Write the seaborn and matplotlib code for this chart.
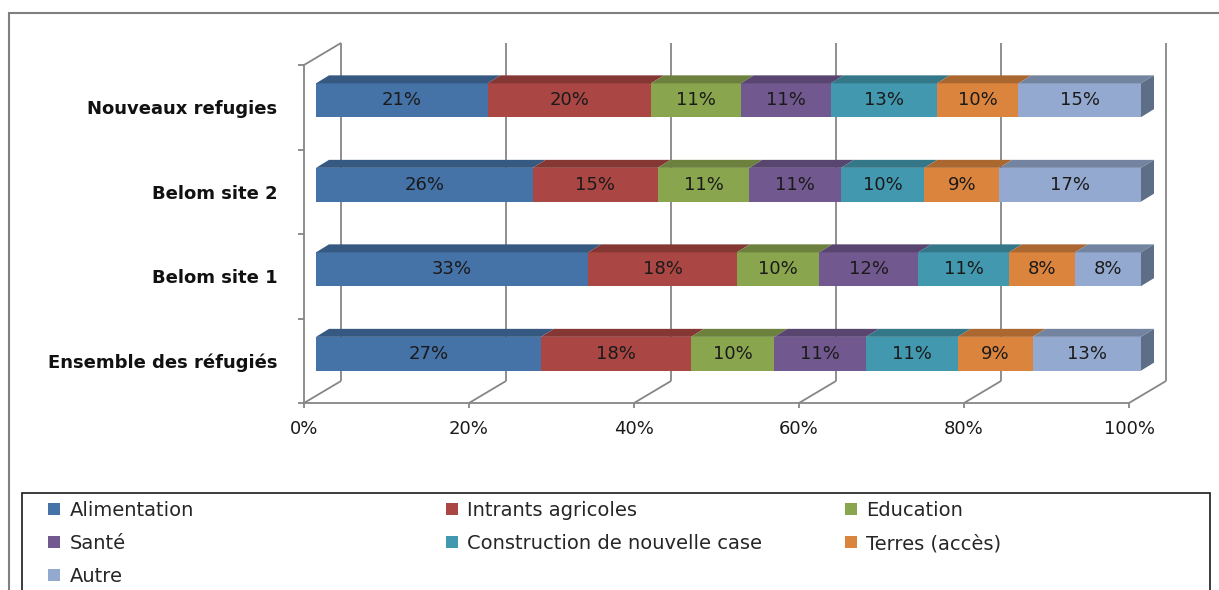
import matplotlib
matplotlib.use("Agg")
import matplotlib.pyplot as plt
import matplotlib.colors as mcolors
from matplotlib.patches import Polygon, Rectangle, Patch
import pandas as pd
import seaborn as sns

# data (percent labels shown on each segment)
categories = ["Nouveaux refugies", "Belom site 2", "Belom site 1", "Ensemble des réfugiés"]
series = ["Alimentation", "Intrants agricoles", "Education", "Santé",
          "Construction de nouvelle case", "Terres (accès)", "Autre"]
alimentation = [21, 26, 33, 27]
intrants = [20, 15, 18, 18]
education = [11, 11, 10, 10]
sante = [11, 11, 12, 11]
construction = [13, 10, 11, 11]
terres = [10, 9, 8, 9]
autre = [15, 17, 8, 13]
x_ticks = [0, 20, 40, 60, 80, 100]
x_tick_labels = ["0%", "20%", "40%", "60%", "80%", "100%"]

colors = ["#4572A7", "#AA4643", "#89A54E", "#71588F", "#4198AF", "#DB843D", "#93A9CF"]

sns.set_theme(style="white")
plt.rcParams["font.family"] = ["DejaVu Sans"]

df = pd.DataFrame(dict(zip(series, [alimentation, intrants, education, sante,
                                    construction, terres, autre])), index=categories)
pct = df.div(df.sum(axis=1), axis=0) * 100
cum = pct.cumsum(axis=1)

W, H = 1219, 590
fig = plt.figure(figsize=(W / 100, H / 100), dpi=100)
# front plane of the 3D box
ax_l, ax_r, ax_t, ax_b = 304, 1129, 65, 403
ax = fig.add_axes([ax_l / W, 1 - ax_b / H, (ax_r - ax_l) / W, (ax_b - ax_t) / H])

# stacked bars: draw cumulative totals from the last series to the first
for name, col in reversed(list(zip(series, colors))):
    sns.barplot(x=cum[name].values, y=categories, order=categories, orient="h",
                color=col, saturation=1, width=0.4, linewidth=0, ax=ax)

ax.set_xlim(0, 100)
ax.set_ylim(3.5, -0.5)

# pixel -> data conversions for the oblique depth effect
px_x = (ax_r - ax_l) / 100
px_y = (ax_b - ax_t) / len(categories)
fx, fy = 12 / px_x, 7 / px_y       # bar front face offset
bx, by = 13 / px_x, 8 / px_y       # bar depth
Dx, Dy = 37 / px_x, 22 / px_y      # wall depth

for p in list(ax.patches):
    p.set_x(p.get_x() + fx)
    p.set_y(p.get_y() - fy)
    p.set_clip_on(False)


def darker(c, f):
    r, g, b = mcolors.to_rgb(c)
    return (r * f, g * f, b * f)


half = 0.2
for i, cat in enumerate(categories):
    yt = i - half - fy
    left = 0
    for name, col in zip(series, colors):
        a, b = left + fx, cum.loc[cat, name] + fx
        ax.add_patch(Polygon([(a, yt), (b, yt), (b + bx, yt - by), (a + bx, yt - by)],
                             closed=True, facecolor=darker(col, 0.78), edgecolor="none",
                             clip_on=False, zorder=1))
        ax.text((a + b) / 2, i - fy, f"{df.loc[cat, name]}%", ha="center", va="center",
                fontsize=13, color="#1a1a1a", zorder=3)
        left = cum.loc[cat, name]
    r = 100 + fx
    ax.add_patch(Polygon([(r, yt), (r, yt + 2 * half), (r + bx, yt + 2 * half - by),
                          (r + bx, yt - by)], closed=True, facecolor="#5E6E86",
                         edgecolor="none", clip_on=False, zorder=1))

# walls and floor
grid_kw = dict(color="#868686", lw=1.3, clip_on=False, zorder=0.5, solid_capstyle="butt")
y_front = len(categories) - 0.5
y_top = -0.5
for t in x_ticks:
    ax.plot([t, t + Dx], [y_front, y_front - Dy], **grid_kw)
    ax.plot([t + Dx, t + Dx], [y_front - Dy, y_top - Dy], **grid_kw)
ax.plot([0, Dx], [y_top, y_top - Dy], **grid_kw)

for side in ["top", "right"]:
    ax.spines[side].set_visible(False)
for side in ["left", "bottom"]:
    ax.spines[side].set_color("#868686")
    ax.spines[side].set_linewidth(1.3)

ax.set_xticks(x_ticks)
ax.set_xticklabels(x_tick_labels, fontsize=13, color="#1a1a1a")
ax.tick_params(axis="x", which="major", length=3.5, width=1.3, color="#868686",
               pad=9, bottom=True)
ax.set_yticks(range(len(categories)))
ax.set_yticklabels(categories, fontsize=13, fontweight="bold", color="#111111")
ax.set_yticks([k - 0.5 for k in range(len(categories) + 1)], minor=True)
ax.tick_params(axis="y", which="major", length=0, pad=19)
ax.tick_params(axis="y", which="minor", length=4.5, width=1.3, color="#868686", left=True)
ax.set_xlabel("")
ax.set_ylabel("")

# outer chart frame and legend frame
fig.add_artist(Rectangle((9 / W, -0.1), 1.2, 1 - 13 / H + 0.1, transform=fig.transFigure,
                         fill=False, edgecolor="#808080", lw=1.5))
fig.add_artist(Rectangle((22 / W, -0.1), (1210 - 22) / W, 1 - 493 / H + 0.1,
                         transform=fig.transFigure, fill=False, edgecolor="#1a1a1a", lw=1.2))

# legend laid out row by row in three columns
columns = [[0, 3, 6], [1, 4], [2, 5]]
col_x = [48, 446, 845]
for idx, x0 in zip(columns, col_x):
    fig.legend(handles=[Patch(facecolor=colors[j], edgecolor="none") for j in idx],
               labels=[series[j] for j in idx], loc="upper left",
               bbox_to_anchor=(x0 / W, 1 - 501 / H), frameon=False, fontsize=14,
               handlelength=0.6, handleheight=0.55, handletextpad=0.5,
               labelspacing=0.72, borderpad=0, borderaxespad=0)

fig.savefig("out.png", dpi=100)
